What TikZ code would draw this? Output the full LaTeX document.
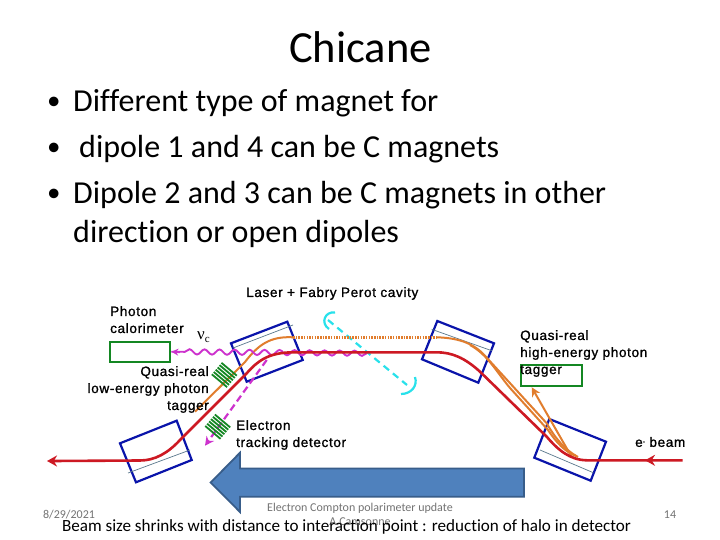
\documentclass[tikz,border=0pt]{standalone}
\usepackage{fontspec}
\setmainfont[Ligatures=NoCommon]{Carlito}
\newfontfamily\arialf[FakeBold=1.2,LetterSpace=5]{Liberation Sans}
\newfontfamily\symf{Liberation Serif}
\usetikzlibrary{decorations.pathmorphing,arrows.meta}
\definecolor{magblue}{RGB}{10,20,170}
\definecolor{beamred}{RGB}{205,25,35}
\definecolor{orng}{RGB}{225,125,45}
\definecolor{mgnta}{RGB}{205,50,205}
\definecolor{cyn}{RGB}{40,225,235}
\definecolor{grn}{RGB}{20,135,35}
\definecolor{thinl}{RGB}{90,120,140}
\definecolor{arrowfill}{RGB}{79,129,189}
\definecolor{arrowedge}{RGB}{56,93,138}
\tikzset{
 x=1pt,y=-1pt,
 magnet/.style={draw=magblue,line width=2.2pt,line join=miter},
 thinline/.style={draw=thinl,line width=0.7pt},
 beam/.style={draw=beamred,line width=2.6pt},
 orbeam/.style={draw=orng,line width=2pt},
 lab/.style={font=\arialf\fontsize{13.5}{17}\selectfont,inner sep=0pt,align=left,text=black},
 foot/.style={font=\fontsize{12}{14}\selectfont,text=gray!90!black,inner sep=0pt},
 bullet/.style={font=\fontsize{32}{36}\selectfont,inner sep=0pt,anchor=west},
 bulletmark/.style={font=\fontsize{27}{30}\selectfont,inner sep=0pt,anchor=west},
 greenbox/.style={draw=grn,line width=2.2pt,fill=white},
 hatchl/.style={draw=grn,line width=1.8pt},
}
\begin{document}
\begin{tikzpicture}
\useasboundingbox (0,0) rectangle (720,540);
\fill[white] (0,0) rectangle (720,540);
% text
\node[inner sep=0pt,font=\fontsize{44.5}{48}\selectfont] (title) at (360.5,47) {Chicane};
\node[bulletmark] (b1) at (47,103) {•};
\node[bullet] (t1) at (73,103.5) {Different type of magnet for};
\node[bulletmark] (b2) at (47,149) {•};
\node[bullet] (t2) at (79,149.5) {dipole 1 and 4 can be C magnets};
\node[bulletmark] (b3) at (47,195) {•};
\node[bullet] (t3) at (73,195.5) {Dipole 2 and 3 can be C magnets in other};
\node[bullet] (t4) at (73,233.5) {direction or open dipoles};
% magnets
\draw[magnet] (120,443.3) -- (176.7,420.7) -- (191.7,460) -- (136,482.3) -- cycle;
\draw[magnet] (231,343.3) -- (287.3,321.7) -- (302.7,360) -- (246.7,381.7) -- cycle;
\draw[magnet] (437.3,321) -- (494,343.3) -- (478.3,382.7) -- (422,359.3) -- cycle;
\draw[magnet] (549.3,419) -- (606,441.7) -- (590.7,480.7) -- (534.3,457.7) -- cycle;
\draw[thinline] (128,473) -- (190,450);
\draw[thinline] (233,348) -- (293,325);
\draw[thinline] (431.7,329.3) -- (491.7,350.7);
\draw[thinline] (540,450) -- (593.3,472.7);
% boxes
\node[greenbox,minimum width=60pt,minimum height=20pt,inner sep=0pt] (cal) at (140.3,351.7) {};
\node[greenbox,minimum width=61pt,minimum height=21pt,inner sep=0pt] (tag) at (551.7,375.5) {};
% cyan
\draw[cyn,line width=2.2pt] (335,312.5) .. controls (325,311) and (320,323) .. (329,329);
\draw[cyn,line width=2.2pt] (415,377) .. controls (418,386) and (411,394) .. (401,394);
\draw[cyn,line width=2.2pt,dash pattern=on 7pt off 5pt] (328,320) -- (407,385);
% orange
\draw[orng,line width=2.4pt,dash pattern=on 1.5pt off 1.2pt] (293,337.3) -- (436.7,337.3);
\draw[orbeam] (293,337.3) .. controls (270,336) and (258,345) .. (245,362) -- (195,411.7);
\draw[orbeam] (436.7,337.3) .. controls (462,338) and (476,345) .. (487,358) -- (546.7,423.3) .. controls (555,438) and (565,450) .. (578,457);
\draw[orbeam] (470,345) .. controls (488,355) and (495,370) .. (510,388) -- (548,430) .. controls (556,442) and (565,452) .. (576,456);
\coordinate (ot) at (531.7,387.3);
\draw[orng,line width=2pt,-{Stealth[length=9pt,width=9pt]}] (571.7,457) -- (ot);
% magenta
\coordinate (wr) at (366.7,353.3);
\draw[mgnta,line width=1.9pt,decorate,decoration={snake,amplitude=2.6pt,segment length=15pt,post length=8pt}] (wr) -- (cal.east);
\draw[mgnta,line width=1.9pt,-{Stealth[length=7pt,width=7pt]}] (180,352.3) -- (cal.east);
\draw[mgnta,line width=2.2pt,dash pattern=on 7pt off 4pt,-{Stealth[length=9pt,width=9pt]}] (266.7,360) -- (205,445.7);
% red
\coordinate (rs) at (682.7,460.3);
\coordinate (re) at (47,461);
\draw[beam] (rs) -- (586.7,460.3) .. controls (570,460) and (558,450) .. (546.7,436.7) -- (480,371.7) .. controls (465,358) and (452,352.3) .. (436.7,352.3) -- (296.7,352.3) .. controls (272,352) and (260,358) .. (246.7,373.3) -- (180,440) .. controls (168,453) and (155,460.5) .. (140,460.5) -- (52,461);
\draw[beamred,line width=2pt,-{Stealth[length=10pt,width=11pt]}] (60,461) -- (re);
\draw[beamred,line width=2pt,-{Stealth[length=10pt,width=11pt]}] (660,460.3) -- (645,460.3);
% hatch
\foreach \cx/\cy in {224.3/375,217.7/426.7}{
 \begin{scope}[shift={(\cx,\cy)},rotate=-40]
  \foreach \d in {-7.5,-4.5,-1.5,1.5,4.5,7.5}{
   \draw[hatchl] (-10,\d) -- (10,\d);
  }
 \end{scope}
}
% labels
\node[lab,anchor=west] (l1) at (246,293.5) {Laser + Fabry Perot cavity};
\node[lab,anchor=north west] (l2) at (110,306) {Photon\\calorimeter};
\node[anchor=west,inner sep=0pt,font=\symf\fontsize{17}{19}\selectfont] (nu) at (197,337) {ν\raisebox{-3.5pt}{\fontsize{11}{12}\selectfont c}};
\node[lab,anchor=north east,align=right] (l3) at (209,366) {Quasi-real\\low-energy photon\\tagger};
\node[lab,anchor=north west] (l4) at (236,420) {Electron\\tracking detector};
\node[lab,anchor=north west] (l5) at (520,330) {Quasi-real\\high-energy photon\\tagger};
\node[lab,anchor=west] (l6) at (635,442) {e\raisebox{3pt}{\fontsize{7}{8}\selectfont -} beam};
% big arrow
\draw[draw=arrowedge,fill=arrowfill,line width=1.8pt,line join=miter]
 (524,468.5) -- (240,468.5) -- (240,452.7) -- (210.7,482.5) -- (240,512) -- (240,496.7) -- (524,496.7) -- cycle;
% footer
\node[foot] (f1) at (69,515) {8/29/2021};
\node[foot] (f2) at (360,508) {Electron Compton polarimeter update};
\node[foot] (f3) at (360,522) {A.Camsonne};
\node[foot] (f4) at (670,515) {14};
\node[inner sep=0pt,font=\fontsize{17.1}{20}\selectfont] (bot) at (346.5,526.5) {Beam size shrinks with distance to interaction point : reduction of halo in detector};
\end{tikzpicture}
\end{document}
